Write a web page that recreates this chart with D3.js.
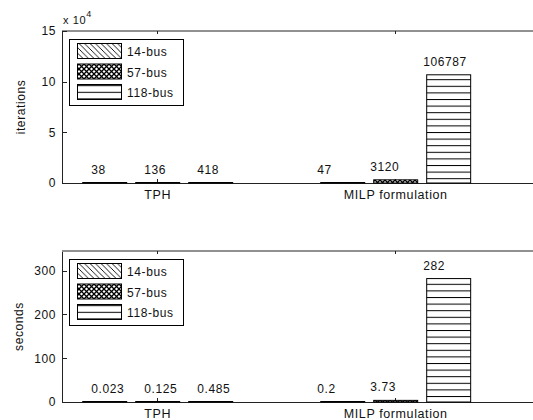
<!DOCTYPE html>
<meta charset="utf-8">
<script src="https://d3js.org/d3.v7.min.js"></script>
<title>TPH vs MILP</title>
<style>
  body { margin: 0; background: #fff; }
  text { font-family: "Liberation Sans", Arial, sans-serif; fill: #111; letter-spacing: 0.6px; }
  .ax path, .ax line { stroke: #222; shape-rendering: crispEdges; }
  .ax text { font-size: 12px; }
</style>
<body>
<script>
  // data
  var groups = ["TPH", "MILP formulation"];
  var series = ["14-bus", "57-bus", "118-bus"];
  var iterations = [[38, 136, 418], [47, 3120, 106787]];
  var seconds = [[0.023, 0.125, 0.485], [0.2, 3.73, 282]];
  var iterTicks = [0, 50000, 100000, 150000];
  var secTicks = [0, 100, 200, 300];

  var W = 533, H = 420;
  var svg = d3.select("body").append("svg").attr("width", W).attr("height", H);

  // hatch patterns, one per series
  var defs = svg.append("defs");
  var p1 = defs.append("pattern").attr("id", "pat0").attr("patternUnits", "userSpaceOnUse")
      .attr("width", 5.5).attr("height", 5.5);
  p1.append("rect").attr("width", 5.5).attr("height", 5.5).attr("fill", "#fff");
  p1.append("path").attr("d", "M-1,-1L6.5,6.5M-1,4.5L1,6.5M4.5,-1L6.5,1").attr("stroke", "#000").attr("stroke-width", 0.9);

  var p2 = defs.append("pattern").attr("id", "pat1").attr("patternUnits", "userSpaceOnUse")
      .attr("width", 5).attr("height", 5);
  p2.append("rect").attr("width", 5).attr("height", 5).attr("fill", "#fff");
  p2.append("path").attr("d", "M0,0L5,5M5,0L0,5").attr("stroke", "#000").attr("stroke-width", 1.3);

  var p3 = defs.append("pattern").attr("id", "pat2").attr("patternUnits", "userSpaceOnUse")
      .attr("width", 10).attr("height", 6.6);
  p3.append("rect").attr("width", 10).attr("height", 6.6).attr("fill", "#fff");
  p3.append("line").attr("x1", 0).attr("x2", 10).attr("y1", 0.5).attr("y2", 0.5)
      .attr("stroke", "#000").attr("stroke-width", 1);

  var x = d3.scaleLinear().domain([0.6, 2.6]).range([62, 538]);
  var sub = d3.scaleBand().domain(series).range([-0.315, 0.315]).paddingInner(0.17);
  var barW = x(sub.bandwidth()) - x(0);
  var labelShift = [9, -3];

  function panel(top, bottom, yMax, values, ticks, fmt, yLabel, labelX) {
    var y = d3.scaleLinear().domain([0, yMax]).range([bottom, top]);
    var g = svg.append("g");

    g.append("line").attr("class", "ax").attr("x1", 62).attr("x2", W).attr("y1", top).attr("y2", top)
      .attr("stroke", "#222");

    g.append("g").attr("class", "ax").attr("transform", "translate(62,0)")
      .call(d3.axisLeft(y).tickValues(ticks).tickFormat(fmt).tickSizeInner(-5).tickSizeOuter(0).tickPadding(6));

    g.append("g").attr("class", "ax").attr("transform", "translate(0," + bottom + ")")
      .call(d3.axisBottom(x).tickValues([1, 2]).tickFormat(function (d) { return groups[d - 1]; })
        .tickSizeInner(-4).tickSizeOuter(0).tickPadding(7))
      .selectAll("text").style("font-size", "12.5px");

    g.append("g").attr("class", "ax").attr("transform", "translate(0," + top + ")")
      .call(d3.axisTop(x).tickValues([1, 2]).tickFormat("").tickSizeInner(-3).tickSizeOuter(0))
      .select(".domain").remove();

    g.append("text").attr("transform", "translate(" + labelX + "," + (top + bottom) / 2 + ") rotate(-90)")
      .attr("text-anchor", "middle").style("font-size", "12px").text(yLabel);

    values.forEach(function (row, gi) {
      row.forEach(function (v, si) {
        var x0 = x(gi + 1 + sub(series[si]));
        var yt = y(v);
        g.append("rect").attr("x", x0 + 0.5).attr("y", Math.min(yt, bottom - 0.5))
          .attr("width", barW).attr("height", Math.max(bottom - yt, 0.5))
          .attr("fill", "url(#pat" + si + ")").attr("stroke", "#000").attr("stroke-width", 1);
        g.append("text").attr("x", x0 + labelShift[gi]).attr("y", yt - 9)
          .style("font-size", "12px").text(String(v));
      });
    });

    // legend
    var lg = g.append("g").attr("transform", "translate(69," + (top + 8) + ")");
    lg.append("rect").attr("x", 0.5).attr("y", 0.5).attr("width", 114).attr("height", 66)
      .attr("fill", "#fff").attr("stroke", "#000");
    series.forEach(function (s, i) {
      var yy = 4 + i * 20.5;
      lg.append("rect").attr("x", 8.5).attr("y", yy + 0.5).attr("width", 44).attr("height", 15)
        .attr("fill", "url(#pat" + i + ")").attr("stroke", "#000");
      lg.append("text").attr("x", 58).attr("y", yy + 13).style("font-size", "12px").text(s);
    });
    return g;
  }

  var gTop = panel(31, 183, 150000, iterations, iterTicks, function (d) { return d / 1e4; }, "iterations", 25);
  var ex = gTop.append("text").attr("x", 63).attr("y", 24).style("font-size", "11px");
  ex.append("tspan").text("x 10");
  ex.append("tspan").attr("dy", -7).style("font-size", "9px").text("4");

  panel(251, 402, 345, seconds, secTicks, d3.format("d"), "seconds", 23);
</script>
</body>
